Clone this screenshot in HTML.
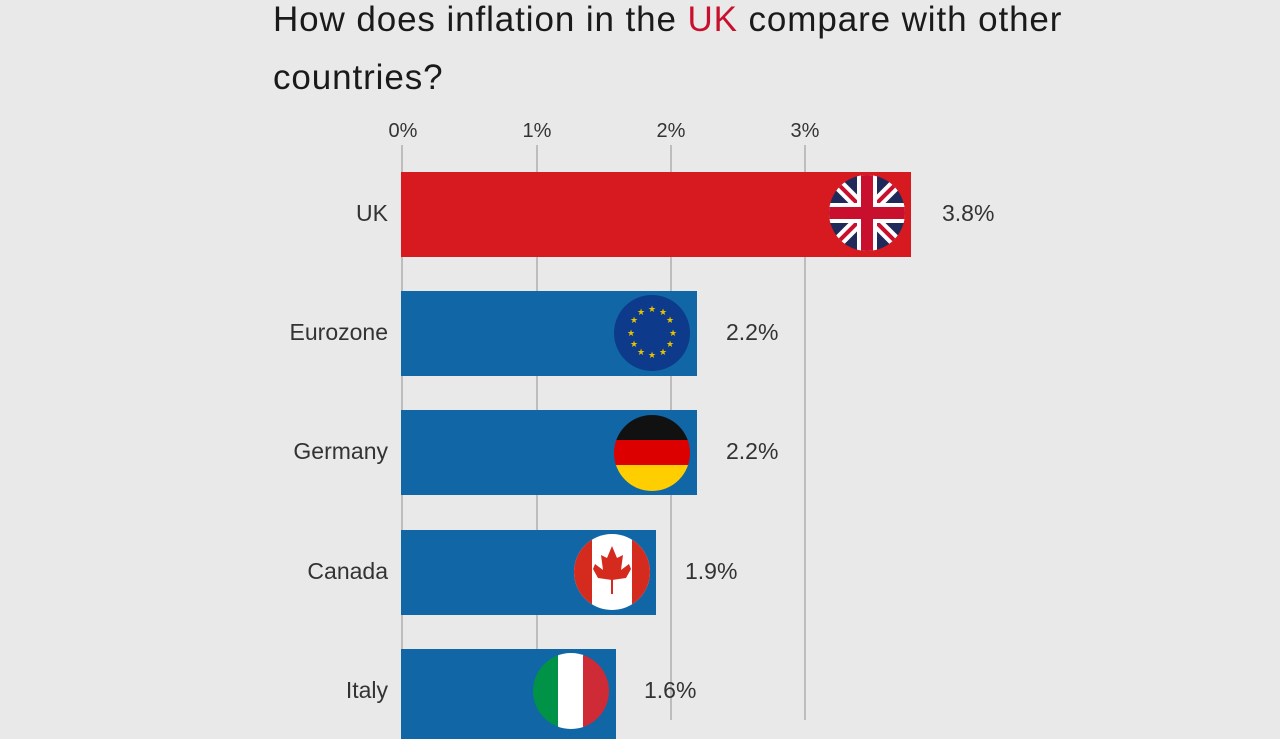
<!DOCTYPE html>
<html><head><style>
body{margin:0;width:1280px;height:720px;overflow:hidden;background:#e9e9e9;font-family:"Liberation Sans",sans-serif;position:relative}
.t{position:absolute;left:273px;font-size:35px;color:#1a1a1a;letter-spacing:0.9px;white-space:nowrap}
.ax{position:absolute;top:120px;font-size:20px;color:#333;transform:translateX(-50%)}
.g{position:absolute;top:145px;height:575px;width:2px;background:#bdbdbd}
.bar{position:absolute;left:401px;height:85px}
.lab{position:absolute;font-size:23px;color:#333;text-align:right;width:200px;left:188px}
.val{position:absolute;font-size:23px;color:#333}
svg.f{position:absolute}
</style></head><body>
<div class="t" style="top:0px">How does inflation in the <span style="color:#c8102e">UK</span> compare with other</div>
<div class="t" style="top:58px">countries?</div>
<div class="ax" style="left:403px">0%</div>
<div class="ax" style="left:537px">1%</div>
<div class="ax" style="left:671px">2%</div>
<div class="ax" style="left:805px">3%</div>
<div class="g" style="left:401px"></div>
<div class="g" style="left:536px"></div>
<div class="g" style="left:670px"></div>
<div class="g" style="left:804px"></div>

<div class="bar" style="top:172px;width:510px;background:#d71920"></div>
<div class="bar" style="top:291px;width:296px;background:#1166a6"></div>
<div class="bar" style="top:410px;width:296px;background:#1166a6"></div>
<div class="bar" style="top:530px;width:255px;background:#1166a6"></div>
<div class="bar" style="top:649px;width:215px;height:90px;background:#1166a6"></div>

<div class="lab" style="top:200px">UK</div>
<div class="lab" style="top:319px">Eurozone</div>
<div class="lab" style="top:438px">Germany</div>
<div class="lab" style="top:558px">Canada</div>
<div class="lab" style="top:677px">Italy</div>
<div class="val" style="left:942px;top:200px">3.8%</div>
<div class="val" style="left:726px;top:319px">2.2%</div>
<div class="val" style="left:726px;top:438px">2.2%</div>
<div class="val" style="left:685px;top:558px">1.9%</div>
<div class="val" style="left:644px;top:677px">1.6%</div>

<svg class="f" style="left:829px;top:175px" width="76" height="76" viewBox="0 0 76 76">
<defs><clipPath id="c1"><circle cx="38" cy="38" r="38"/></clipPath></defs>
<g clip-path="url(#c1)"><rect width="76" height="76" fill="#1f2a5a"/>
<path d="M0 0L76 76M76 0L0 76" stroke="#fff" stroke-width="12"/>
<path d="M0 0L76 76M76 0L0 76" stroke="#c8102e" stroke-width="4"/>
<rect x="28" width="20" height="76" fill="#fff"/><rect y="28" width="76" height="20" fill="#fff"/>
<rect x="32" width="12" height="76" fill="#c8102e"/><rect y="32" width="76" height="12" fill="#c8102e"/></g></svg>

<svg class="f" style="left:614px;top:295px" width="76" height="76" viewBox="0 0 76 76">
<circle cx="38" cy="38" r="38" fill="#0d3a8a"/>
<g fill="#e6c200" font-size="9" text-anchor="middle">
<text x="38" y="17">★</text><text x="49" y="20">★</text><text x="56" y="28">★</text><text x="59" y="41">★</text><text x="56" y="52">★</text><text x="49" y="60">★</text><text x="38" y="63">★</text><text x="27" y="60">★</text><text x="20" y="52">★</text><text x="17" y="41">★</text><text x="20" y="28">★</text><text x="27" y="20">★</text></g></svg>

<svg class="f" style="left:614px;top:415px" width="76" height="76" viewBox="0 0 76 76">
<defs><clipPath id="c2"><circle cx="38" cy="38" r="38"/></clipPath></defs>
<g clip-path="url(#c2)"><rect width="76" height="26" fill="#111"/><rect y="25" width="76" height="26" fill="#dd0000"/><rect y="50" width="76" height="26" fill="#ffce00"/></g></svg>

<svg class="f" style="left:574px;top:534px" width="76" height="76" viewBox="0 0 76 76">
<defs><clipPath id="c3"><circle cx="38" cy="38" r="38"/></clipPath></defs>
<g clip-path="url(#c3)"><rect width="76" height="76" fill="#fff"/><rect width="18" height="76" fill="#d52b1e"/><rect x="58" width="18" height="76" fill="#d52b1e"/>
<path d="M38 12L43 24L49 21L47 36L55 30L57 35L52 44L38 46L24 44L19 35L21 30L29 36L27 21L33 24Z" fill="#d52b1e"/><rect x="37" y="44" width="2" height="16" fill="#d52b1e"/></g></svg>

<svg class="f" style="left:533px;top:653px" width="76" height="76" viewBox="0 0 76 76">
<defs><clipPath id="c4"><circle cx="38" cy="38" r="38"/></clipPath></defs>
<g clip-path="url(#c4)"><rect width="26" height="76" fill="#009246"/><rect x="25" width="26" height="76" fill="#fff"/><rect x="50" width="26" height="76" fill="#ce2b37"/></g></svg>
</body></html>
